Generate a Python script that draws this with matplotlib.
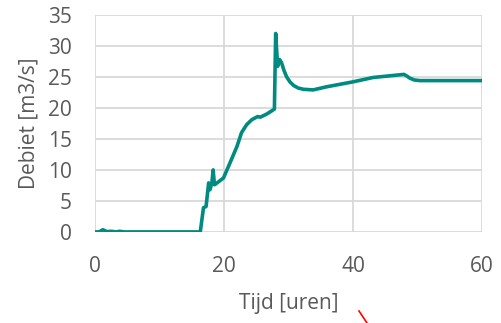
import matplotlib
matplotlib.use("Agg")
import matplotlib.pyplot as plt
from matplotlib.lines import Line2D

# discharge hydrograph (hours, m3/s)
tijd = [0, 0.6, 1.2, 1.8, 2.5, 3.2, 3.8, 4.5, 16.3, 16.8, 17.2, 17.6, 17.8,
        18.1, 18.3, 18.5, 18.9, 19.9, 20.9, 22.0, 22.7, 23.5, 24.3, 25.2,
        25.6, 26.6, 27.8, 28.0, 28.3, 28.6, 28.9, 29.3, 29.7, 30.2, 30.8,
        31.5, 32.3, 33.8, 35.9, 40.0, 43.1, 47.9, 48.4, 48.8, 49.5, 50.4,
        52.4, 60.0]
debiet = [0, 0, 0.35, 0.05, 0.1, 0, 0.1, 0, 0, 3.9, 4.1, 7.9, 6.8,
          7.9, 10.0, 7.6, 7.9, 8.7, 11.1, 13.8, 16.0, 17.3, 18.1, 18.6,
          18.5, 19.0, 19.8, 32.0, 26.7, 27.8, 27.3, 26.0, 25.0, 24.2, 23.6,
          23.2, 23.0, 22.9, 23.4, 24.2, 24.9, 25.4, 25.1, 24.8, 24.5, 24.4,
          24.4, 24.4]

x_ticks = [0, 20, 40, 60]
y_ticks = [0, 5, 10, 15, 20, 25, 30, 35]

tekst = "#595959"
raster = "#D9D9D9"
lijn = "#008B80"

plt.rcParams["font.family"] = ["Open Sans", "DejaVu Sans"]
plt.rcParams["xtick.major.pad"] = 17
plt.rcParams["ytick.major.pad"] = 17

fig = plt.figure(figsize=(5.01, 3.23), dpi=100)
ax = fig.add_axes([0.19, 0.282, 0.772, 0.672])

ax.plot(tijd, debiet, color=lijn, lw=2.6, solid_joinstyle="round", zorder=3)

ax.set_xlim(0, 60)
ax.set_ylim(0, 35)
ax.set_xticks(x_ticks)
ax.set_yticks(y_ticks)
ax.grid(True, color=raster, lw=1.3)
ax.set_axisbelow(True)
for s in ax.spines.values():
    s.set_visible(False)
ax.tick_params(length=0, labelsize=15, colors=tekst)

ax.set_xlabel("Tijd [uren]", fontsize=15, color=tekst, labelpad=12)
ax.set_ylabel("Debiet [m3/s]", fontsize=15, color=tekst, labelpad=6)

# small red pen mark below the axis title
fig.add_artist(Line2D([359 / 501, 367 / 501], [1 - 311 / 323, 0.0],
                      color="red", lw=1.2, transform=fig.transFigure))

fig.savefig("out.png", dpi=100)
